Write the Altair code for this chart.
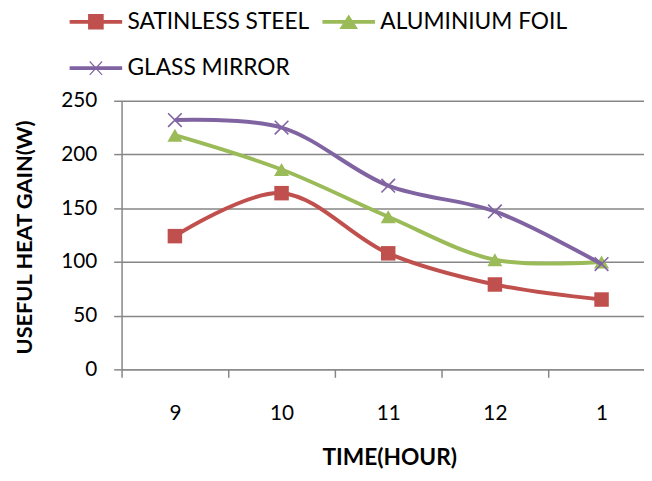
import altair as alt
import pandas as pd

times = ["9", "10", "11", "12", "1"]
series_names = ["SATINLESS STEEL", "ALUMINIUM FOIL", "GLASS MIRROR"]
steel = [124, 164, 108, 79, 65]
foil = [218, 186, 142, 102, 100]
mirror = [232, 225, 171, 147, 98]
colors = ["#C0504D", "#9BBB59", "#8064A2"]
y_ticks = [0, 50, 100, 150, 200, 250]

rows = []
for name, vals in zip(series_names, [steel, foil, mirror]):
    for i, (t, v) in enumerate(zip(times, vals)):
        rows.append({"series": name, "idx": i, "time": t, "value": v})
df = pd.DataFrame(rows)

GRAY = "#868686"
FONT = "Lato"

# legend symbol paths: line + marker
p_steel = "M-1,-0.05H1V0.05H-1Z M-0.28,-0.28H0.28V0.28H-0.28Z"
p_foil = "M-1,-0.05H1V0.05H-1Z M-0.32,0.26L0,-0.24L0.32,0.26Z"
p_mirror = "M-1,-0.05H1V0.05H-1Z M-0.24,-0.26L0.24,0.26 M-0.24,0.26L0.24,-0.26"

legend = alt.Legend(
    orient="none", legendX=-53, legendY=-107, direction="horizontal", columns=2,
    title=None, symbolSize=2704, symbolStrokeWidth=1.2, symbolOpacity=1,
    labelFont=FONT, labelFontSize=23, labelColor="black", labelOffset=5,
    labelLimit=400, columnPadding=10, rowPadding=8, padding=0,
)

xs = alt.Scale(domain=[-0.5, 4.398], nice=False, zero=False)
cs = alt.Scale(domain=series_names, range=colors)
ss = alt.Scale(domain=series_names, range=[p_steel, p_foil, p_mirror])

label_expr = "[" + ",".join(f"'{t}'" for t in times) + "][datum.value]"
label_axis = alt.Axis(
    orient="bottom", values=[0, 1, 2, 3, 4], labelExpr=label_expr,
    domain=False, ticks=False, tickSize=0, grid=False,
    labelFont=FONT, labelFontSize=21, labelColor="black", labelPadding=45,
    labelBaseline="middle", labelFlush=False, labelOverlap=False,
    title="TIME(HOUR)", titleFont=FONT, titleFontSize=23, titleFontWeight="bold",
    titleColor="black", titleX=271, titleY=89, titleAlign="center",
    titleBaseline="middle",
)
tick_axis = alt.Axis(
    orient="bottom", values=[-0.5, 0.5, 1.5, 2.5, 3.5], labels=False,
    domain=True, domainColor=GRAY, domainWidth=1.5, ticks=True, tickSize=8,
    tickColor=GRAY, tickWidth=1.5, grid=False, title="",
)

Y = alt.Y(
    "value:Q",
    scale=alt.Scale(domain=[0, 250], nice=False, zero=True),
    axis=alt.Axis(
        values=y_ticks, grid=True, gridColor=GRAY, gridWidth=1.5,
        domainColor=GRAY, domainWidth=1.5, tickColor=GRAY, tickWidth=1.5,
        tickSize=8, labelFont=FONT, labelFontSize=21, labelColor="black",
        labelPadding=17, title="USEFUL HEAT GAIN(W)", titleFont=FONT,
        titleFontSize=22, titleFontWeight="bold", titleColor="black",
        titleX=-98, titleY=138, titleAngle=270, titleAlign="center",
        titleBaseline="middle",
    ),
)

base = alt.Chart(df)

# invisible layer that only carries the legend
legend_layer = base.mark_point(filled=True, opacity=0, size=10).encode(
    x=alt.X("idx:Q", scale=xs, axis=label_axis),
    y=Y,
    fill=alt.Fill("series:N", scale=cs, legend=legend),
    stroke=alt.Stroke("series:N", scale=cs, legend=legend),
    shape=alt.Shape("series:N", scale=ss, legend=legend),
)

layers = [legend_layer]
point_specs = [
    dict(shape="square", filled=True, size=215, strokeWidth=0),
    dict(shape="triangle-up", filled=True, size=230, strokeWidth=0),
    dict(shape="M-1,-1L1,1M-1,1L1,-1", filled=False, size=190, strokeWidth=1.6),
]
for k, name in enumerate(series_names):
    sub = base.transform_filter(alt.datum.series == name)
    line = sub.mark_line(strokeWidth=4, interpolate="catmull-rom", color=colors[k]).encode(
        x=alt.X("idx:Q", scale=xs, axis=None),
        y=Y,
    )
    pts = sub.mark_point(opacity=1, color=colors[k], **point_specs[k]).encode(
        x=alt.X("idx:Q", scale=xs, axis=tick_axis if k == 0 else None),
        y=Y,
    )
    layers += [line, pts]

chart = (
    alt.layer(*layers)
    .resolve_axis(x="independent")
    .properties(
        width=529, height=272,
        autosize=alt.AutoSizeParams(type="none"),
        padding={"left": 115, "top": 91, "right": 0, "bottom": 102},
    )
    .configure_view(stroke=None)
)

chart.save("out.html", embed_options={"renderer": "svg", "actions": False})
